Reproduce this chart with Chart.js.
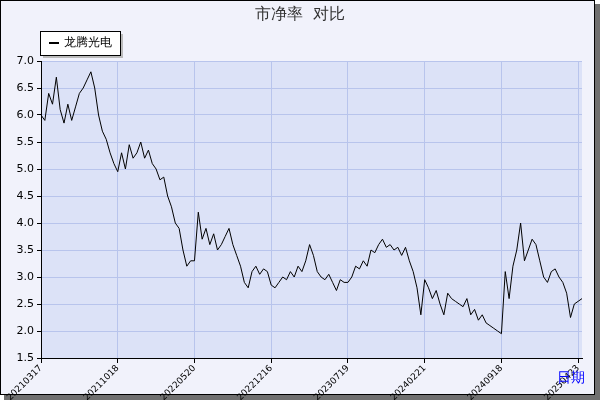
<!DOCTYPE html>
<html><head><meta charset="utf-8">
<script src="https://cdn.jsdelivr.net/npm/chart.js@4"></script>
<style>html,body{margin:0;padding:0;background:#fff}#w{width:600px;height:400px}</style>
</head><body><div id="w"><canvas id="c" width="600" height="400"></canvas></div>
<script>
const seriesName = '龙腾光电';
const tickLabels = ['20210317','20211018','20220520','20221216','20230719','20240221','20240918','20250423'];
const pbValues = [
6.0,5.9,6.4,6.2,6.7,6.1,5.85,6.2,5.9,6.15,6.4,6.5,6.65,6.8,6.5,6.0,5.7,5.55,5.3,5.1,
4.95,5.3,5.0,5.45,5.2,5.3,5.5,5.2,5.35,5.1,5.0,4.8,4.85,4.5,4.3,4.0,3.9,3.5,3.2,3.3,
3.3,4.2,3.7,3.9,3.6,3.8,3.5,3.6,3.75,3.9,3.6,3.4,3.2,2.9,2.8,3.1,3.2,3.05,3.15,3.1,
2.85,2.8,2.9,3.0,2.95,3.1,3.0,3.2,3.1,3.3,3.6,3.4,3.1,3.0,2.95,3.05,2.9,2.75,2.95,2.9,
2.9,3.0,3.2,3.15,3.3,3.2,3.5,3.45,3.6,3.7,3.55,3.6,3.5,3.55,3.4,3.55,3.3,3.1,2.8,2.3,
2.95,2.8,2.6,2.75,2.5,2.3,2.7,2.6,2.55,2.5,2.45,2.6,2.3,2.4,2.2,2.3,2.15,2.1,2.05,2.0,
1.95,3.1,2.6,3.2,3.5,4.0,3.3,3.5,3.7,3.6,3.3,3.0,2.9,3.1,3.15,3.0,2.9,2.7,2.25,2.5,
2.55,2.6];
const step = 20;
const labels = pbValues.map((v,i)=> i%step===0 ? tickLabels[i/step] : '');
const F = 'DejaVu Sans';
const deco = {
  id:'deco',
  beforeDraw(ch){
    const c=ch.ctx, a=ch.chartArea;
    c.save();
    c.fillStyle='#fff';c.fillRect(0,0,600,400);
    c.fillStyle='#707070';c.fillRect(4,4,596,396);
    c.fillStyle='#f1f2fb';c.fillRect(0,0,595,395);
    c.strokeStyle='#000';c.lineWidth=1;c.strokeRect(0.5,0.5,594,394);
    c.fillStyle='#dce2f7';c.fillRect(a.left,a.top,a.right-a.left,a.bottom-a.top);
    c.restore();
  },
  afterDraw(ch){
    const c=ch.ctx;
    c.save();
    c.fillStyle='#333';c.font='16px '+F;c.textAlign='center';c.textBaseline='middle';
    c.fillText('市净率  对比',300,15);
    c.fillStyle='#bbb';c.fillRect(43,34,80,24);
    c.fillStyle='#fff';c.fillRect(40,31,80,24);
    c.strokeStyle='#000';c.strokeRect(40.5,31.5,80,24);
    c.fillStyle='#000';c.fillRect(49,42,10,2);
    c.font='12px '+F;c.textAlign='left';c.fillText(seriesName,64,43);
    c.fillStyle='#0000ff';c.font='14px '+F;c.fillText('日期',557,378);
    c.restore();
  }
};
new Chart(document.getElementById('c'),{
  type:'line',
  data:{labels,datasets:[{label:seriesName,data:pbValues,borderColor:'#000',borderWidth:1,pointRadius:0,tension:0}]},
  options:{
    responsive:false,animation:false,
    layout:{padding:{left:0,top:61,right:18,bottom:0}},
    plugins:{legend:{display:false},title:{display:false},tooltip:{enabled:false}},
    scales:{
      x:{type:'category',offset:false,
        afterFit(s){s.height=42;},
        grid:{color:(ctx)=> (ctx.index%step===0)?'#b8c4ec':'rgba(0,0,0,0)',drawTicks:true,tickLength:5,tickColor:(ctx)=>(ctx.index%step===0)?'#000':'rgba(0,0,0,0)'},
        border:{color:'#000'},
        ticks:{autoSkip:false,maxRotation:45,minRotation:45,color:'#000',font:{family:F,size:9},padding:0,
          callback:(v,i)=> i%step===0 ? tickLabels[i/step] : ''}
      },
      y:{min:1.5,max:7.0,
        afterFit(s){s.width=41;},
        grid:{color:'#b8c4ec',tickLength:4,tickColor:'#000'},
        border:{color:'#000'},
        ticks:{stepSize:0.5,color:'#000',font:{family:F,size:11},callback:v=>v.toFixed(1)}
      }
    }
  },
  plugins:[deco]
});
</script></body></html>
